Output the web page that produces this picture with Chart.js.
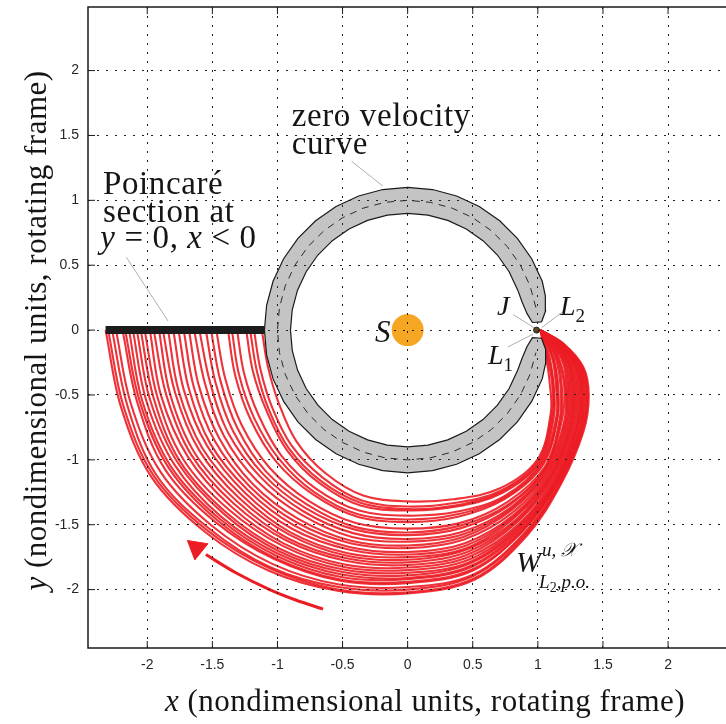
<!DOCTYPE html>
<html lang="en">
<head>
<meta charset="UTF-8">
<title>Tubo do L2 - secao de Poincare</title>
<script src="https://cdn.jsdelivr.net/npm/chart.js"></script>
<style>
  html, body { margin: 0; padding: 0; background: #fff; overflow: hidden; }
  #caixa { width: 726px; height: 724px; position: relative; }
  canvas { display: block; }
</style>
</head>
<body>
<div id="caixa"><canvas id="grafico"></canvas></div>
<script>
const xTicks = [-2, -1.5, -1, -0.5, 0, 0.5, 1, 1.5, 2];
const yTicks = [-2, -1.5, -1, -0.5, 0, 0.5, 1, 1.5, 2];

// orbitas do tubo: raio (a partir de S) lido em cada angulo, medido no sentido horario a partir de +x
const tubeAngles = [0, 5, 12, 20, 30, 45, 60, 75, 90, 105, 120, 135, 150, 165, 180];
const tubeRadii = [
  [1.02, 1.04, 1.09, 1.16, 1.27, 1.41, 1.41, 1.35, 1.32, 1.32, 1.27, 1.21, 1.14, 1.11, 1.12],
  [1.02, 1.05, 1.10, 1.18, 1.28, 1.42, 1.43, 1.38, 1.36, 1.36, 1.31, 1.26, 1.20, 1.17, 1.18],
  [1.02, 1.05, 1.11, 1.19, 1.29, 1.43, 1.44, 1.40, 1.38, 1.38, 1.34, 1.29, 1.23, 1.20, 1.21],
  [1.02, 1.06, 1.12, 1.19, 1.30, 1.44, 1.45, 1.41, 1.39, 1.40, 1.36, 1.31, 1.25, 1.23, 1.24],
  [1.02, 1.07, 1.14, 1.21, 1.32, 1.45, 1.48, 1.45, 1.43, 1.44, 1.41, 1.37, 1.32, 1.30, 1.31],
  [1.02, 1.07, 1.15, 1.22, 1.33, 1.46, 1.49, 1.47, 1.46, 1.47, 1.44, 1.40, 1.36, 1.34, 1.35],
  [1.02, 1.08, 1.15, 1.23, 1.33, 1.47, 1.50, 1.49, 1.48, 1.49, 1.46, 1.43, 1.39, 1.37, 1.38],
  [1.02, 1.09, 1.17, 1.25, 1.35, 1.49, 1.53, 1.54, 1.53, 1.54, 1.52, 1.50, 1.47, 1.45, 1.47],
  [1.02, 1.09, 1.18, 1.26, 1.36, 1.50, 1.55, 1.56, 1.56, 1.57, 1.55, 1.54, 1.51, 1.49, 1.51],
  [1.02, 1.10, 1.19, 1.28, 1.37, 1.50, 1.56, 1.58, 1.58, 1.59, 1.58, 1.57, 1.55, 1.53, 1.55],
  [1.02, 1.11, 1.20, 1.29, 1.39, 1.51, 1.58, 1.61, 1.61, 1.62, 1.61, 1.60, 1.59, 1.57, 1.60],
  [1.02, 1.11, 1.22, 1.30, 1.40, 1.52, 1.59, 1.63, 1.63, 1.65, 1.64, 1.64, 1.63, 1.61, 1.64],
  [1.02, 1.12, 1.23, 1.31, 1.41, 1.53, 1.60, 1.65, 1.66, 1.68, 1.68, 1.68, 1.67, 1.66, 1.68],
  [1.02, 1.12, 1.24, 1.32, 1.42, 1.54, 1.62, 1.67, 1.68, 1.70, 1.71, 1.71, 1.71, 1.70, 1.72],
  [1.02, 1.13, 1.25, 1.33, 1.43, 1.55, 1.64, 1.70, 1.71, 1.73, 1.74, 1.74, 1.75, 1.74, 1.76],
  [1.02, 1.13, 1.26, 1.34, 1.44, 1.56, 1.65, 1.72, 1.73, 1.75, 1.77, 1.77, 1.78, 1.78, 1.80],
  [1.02, 1.14, 1.27, 1.35, 1.45, 1.57, 1.66, 1.74, 1.75, 1.78, 1.80, 1.80, 1.82, 1.82, 1.84],
  [1.02, 1.14, 1.27, 1.36, 1.45, 1.57, 1.68, 1.75, 1.77, 1.80, 1.82, 1.83, 1.85, 1.85, 1.88],
  [1.02, 1.15, 1.28, 1.37, 1.46, 1.58, 1.69, 1.77, 1.79, 1.82, 1.85, 1.86, 1.89, 1.89, 1.91],
  [1.02, 1.15, 1.29, 1.38, 1.47, 1.59, 1.70, 1.79, 1.81, 1.84, 1.87, 1.89, 1.92, 1.92, 1.95],
  [1.02, 1.16, 1.30, 1.39, 1.48, 1.60, 1.72, 1.81, 1.83, 1.87, 1.90, 1.92, 1.95, 1.96, 1.98],
  [1.02, 1.16, 1.31, 1.40, 1.49, 1.61, 1.73, 1.83, 1.85, 1.89, 1.92, 1.95, 1.99, 1.99, 2.02],
  [1.02, 1.17, 1.32, 1.41, 1.50, 1.62, 1.74, 1.85, 1.87, 1.91, 1.95, 1.98, 2.02, 2.02, 2.05],
  [1.02, 1.17, 1.32, 1.42, 1.50, 1.62, 1.75, 1.86, 1.89, 1.93, 1.97, 2.00, 2.04, 2.05, 2.08],
  [1.02, 1.18, 1.33, 1.43, 1.51, 1.63, 1.76, 1.88, 1.91, 1.95, 1.99, 2.03, 2.07, 2.08, 2.11],
  [1.02, 1.18, 1.34, 1.43, 1.52, 1.63, 1.77, 1.89, 1.92, 1.97, 2.01, 2.05, 2.10, 2.11, 2.14],
  [1.02, 1.18, 1.35, 1.44, 1.53, 1.64, 1.78, 1.91, 1.94, 1.99, 2.03, 2.07, 2.12, 2.13, 2.17],
  [1.02, 1.18, 1.35, 1.45, 1.53, 1.64, 1.78, 1.92, 1.95, 2.00, 2.04, 2.09, 2.15, 2.15, 2.19],
  [1.02, 1.19, 1.36, 1.46, 1.54, 1.65, 1.80, 1.95, 1.98, 2.03, 2.08, 2.13, 2.19, 2.20, 2.24],
  [1.02, 1.19, 1.37, 1.47, 1.55, 1.66, 1.81, 1.96, 2.00, 2.05, 2.11, 2.16, 2.23, 2.23, 2.27],
  [1.02, 1.20, 1.37, 1.47, 1.55, 1.66, 1.82, 1.98, 2.02, 2.07, 2.12, 2.18, 2.25, 2.26, 2.30],
  [1.02, 1.20, 1.38, 1.48, 1.56, 1.67, 1.83, 1.99, 2.03, 2.08, 2.14, 2.20, 2.27, 2.28, 2.32]
];

// curva de velocidade zero (anel cinza), angulos anti-horarios a partir de +x
const ringAngles = [3.5, 8, 14, 20, 30, 40, 50, 60, 70, 80, 90, 100, 110, 120, 130, 140, 150, 160, 170, 180,
  190, 200, 210, 220, 230, 240, 250, 260, 270, 280, 290, 300, 310, 320, 330, 340, 346, 352, 356.5];
const ringOuter = [1.03, 1.07, 1.09, 1.10, 1.10, 1.10, 1.10, 1.10, 1.10, 1.10, 1.10, 1.10, 1.10, 1.10, 1.10, 1.10,
  1.10, 1.10, 1.10, 1.10, 1.10, 1.10, 1.10, 1.10, 1.10, 1.10, 1.10, 1.10, 1.10, 1.10, 1.10, 1.10, 1.10, 1.10, 1.10,
  1.10, 1.09, 1.07, 1.03];
const ringInner = [0.96, 0.925, 0.905, 0.90, 0.90, 0.90, 0.90, 0.90, 0.90, 0.90, 0.90, 0.90, 0.90, 0.90, 0.90, 0.90,
  0.90, 0.90, 0.90, 0.90, 0.90, 0.90, 0.90, 0.90, 0.90, 0.90, 0.90, 0.90, 0.90, 0.90, 0.90, 0.90, 0.90, 0.90, 0.90,
  0.90, 0.905, 0.925, 0.96];
const midAngles = [10, 20, 30, 40, 50, 60, 70, 80, 90, 100, 110, 120, 130, 140, 150, 160, 170, 180, 190, 200,
  210, 220, 230, 240, 250, 260, 270, 280, 290, 300, 310, 320, 330, 340, 350];
const midRadius = 1.0;

const section = [[-2.32, 0], [-1.10, 0]];
const sun = [[0, 0]];
const jPoint = [[0.99, 0]];
const arrowPath = [[-0.65, -2.15], [-0.86, -2.08], [-1.06, -2.0], [-1.32, -1.87], [-1.55, -1.73]];
const arrowHead = [[-1.62, -1.68]];
const leaderZvc = [[-0.43, 1.30], [-0.19, 1.11]];
const leaderSec = [[-2.16, 0.56], [-1.84, 0.07]];
const leaderJ = [[0.81, 0.12], [0.975, 0.015]];
const leaderL2 = [[1.19, 0.14], [1.03, 0.02]];
const leaderL1 = [[0.77, -0.13], [0.965, -0.03]];

const polar = (r, graus) => ({ x: r * Math.cos(graus * Math.PI / 180), y: r * Math.sin(graus * Math.PI / 180) });
const pts = lista => lista.map(p => ({ x: p[0], y: p[1] }));

const vermelho = 'rgba(236, 28, 36, 0.9)';
const datasets = [];

tubeRadii.forEach(raios => {
  datasets.push({
    data: raios.map((r, i) => polar(r, -tubeAngles[i])),
    showLine: true, borderColor: vermelho, borderWidth: 2.1, tension: 0.35,
    pointRadius: 0, order: 10
  });
});

// anel em forma de C: borda externa ida, borda interna volta
const anel = ringAngles.map((a, i) => polar(ringOuter[i], a))
  .concat(ringAngles.map((a, i) => polar(ringInner[i], a)).reverse());
anel.push(anel[0]);
datasets.push({
  data: anel, showLine: true, fill: 'shape', backgroundColor: '#c4c4c4',
  borderColor: '#1a1a1a', borderWidth: 1.2, tension: 0, pointRadius: 0, order: 4
});
datasets.push({
  data: midAngles.map(a => polar(midRadius, a)), showLine: true, borderColor: '#2a2a2a',
  borderWidth: 1, borderDash: [7, 6], tension: 0, pointRadius: 0, order: 3
});

datasets.push({ data: pts(section), showLine: true, borderColor: '#1c1c1c', borderWidth: 8, pointRadius: 0, order: 2 });
datasets.push({ data: pts(arrowPath), showLine: true, borderColor: 'rgb(236, 28, 36)', borderWidth: 3, tension: 0.3, pointRadius: 0, order: 5 });
datasets.push({ data: pts(arrowHead), pointStyle: 'triangle', pointRotation: -51, pointRadius: 12,
  backgroundColor: 'rgb(236, 28, 36)', borderColor: 'rgb(236, 28, 36)', borderWidth: 1, order: 5 });

[leaderZvc, leaderSec, leaderJ, leaderL2, leaderL1].forEach(l => {
  datasets.push({ data: pts(l), showLine: true, borderColor: '#aeaeae', borderWidth: 1, pointRadius: 0, order: 6 });
});

datasets.push({ data: pts(sun), pointRadius: 16, backgroundColor: '#f5a623', borderWidth: 0, order: 1 });
datasets.push({ data: pts(jPoint), pointRadius: 3, backgroundColor: '#5c4b1e', borderColor: '#222', borderWidth: 1, order: 0 });

const serif = '"Liberation Serif", "Times New Roman", serif';

function larguraTexto(ctx, partes) {
  let w = 0;
  partes.forEach(([t, tam, ital]) => { ctx.font = (ital ? 'italic ' : '') + tam + 'px ' + serif; w += ctx.measureText(t).width; });
  return w;
}
function escreve(ctx, partes, x0, y0) {
  let cx = x0;
  partes.forEach(([t, tam, ital, dy]) => {
    ctx.font = (ital ? 'italic ' : '') + tam + 'px ' + serif;
    ctx.fillText(t, cx, y0 + (dy || 0));
    cx += ctx.measureText(t).width;
  });
  return cx;
}

const anotacoes = {
  id: 'anotacoes',
  afterDraw(chart) {
    const { ctx, chartArea: a, scales: { x, y } } = chart;
    const px = v => x.getPixelForValue(v), py = v => y.getPixelForValue(v);
    ctx.save();

    // moldura e marcas para dentro (estilo MATLAB)
    ctx.strokeStyle = '#1a1a1a';
    ctx.lineWidth = 1.5;
    ctx.beginPath();
    ctx.moveTo(a.right + 2, a.top); ctx.lineTo(a.left, a.top); ctx.lineTo(a.left, a.bottom); ctx.lineTo(a.right + 2, a.bottom);
    ctx.stroke();
    ctx.lineWidth = 1;
    ctx.beginPath();
    xTicks.forEach(v => {
      ctx.moveTo(px(v), a.bottom); ctx.lineTo(px(v), a.bottom - 7);
      ctx.moveTo(px(v), a.top); ctx.lineTo(px(v), a.top + 7);
    });
    yTicks.forEach(v => { ctx.moveTo(a.left, py(v)); ctx.lineTo(a.left + 7, py(v)); });
    ctx.stroke();

    ctx.fillStyle = '#151515';
    ctx.textBaseline = 'alphabetic';
    ctx.textAlign = 'left';
    ctx.letterSpacing = '0.6px';

    escreve(ctx, [['zero velocity', 33]], px(-0.89), py(1.57));
    escreve(ctx, [['curve', 33]], px(-0.89), py(1.355));

    escreve(ctx, [['Poincaré', 33]], px(-2.34), py(1.045));
    escreve(ctx, [['section at', 33]], px(-2.34), py(0.836));
    escreve(ctx, [['y', 33, true], [' = 0, ', 33], ['x', 33, true], [' < 0', 33]], px(-2.36), py(0.63));

    ctx.letterSpacing = '0px';
    escreve(ctx, [['S', 31, true]], px(-0.25), py(-0.095));
    escreve(ctx, [['J', 28, true]], px(0.687), py(0.12));
    escreve(ctx, [['L', 28, true], ['2', 19, false, 7]], px(1.17), py(0.12));
    escreve(ctx, [['L', 28, true], ['1', 19, false, 7]], px(0.617), py(-0.265));

    const wx = px(0.833), wy = py(-1.867);
    const fimW = escreve(ctx, [['W', 30, true]], wx, wy);
    escreve(ctx, [['u', 19, true, -16], [', 𝒳', 19, true, -16]], fimW + 1, wy);
    escreve(ctx, [['L', 19, true, 16], ['2', 14, false, 20], [',p.o.', 19, true, 16]], fimW - 2, wy);

    // titulos dos eixos
    ctx.letterSpacing = '0.5px';
    const tituloX = [['x', 31, true], [' (nondimensional units, rotating frame)', 31]];
    const cxTitulo = (a.left + a.right) / 2 + 18;
    escreve(ctx, tituloX, cxTitulo - larguraTexto(ctx, tituloX) / 2, 711);

    const tituloY = [['y', 31, true], [' (nondimensional units, rotating frame)', 31]];
    ctx.translate(46, (a.top + a.bottom) / 2 + 3);
    ctx.rotate(-Math.PI / 2);
    escreve(ctx, tituloY, -larguraTexto(ctx, tituloY) / 2, 0);
    ctx.restore();
  }
};

const fonteTicks = { family: '"Liberation Sans", Arial, sans-serif', size: 14 };

new Chart(document.getElementById('grafico'), {
  type: 'scatter',
  data: { datasets: datasets },
  options: {
    responsive: true,
    maintainAspectRatio: false,
    animation: false,
    layout: { autoPadding: false, padding: { top: 7, left: 0, right: 0, bottom: 0 } },
    plugins: { legend: { display: false }, tooltip: { enabled: false } },
    scales: {
      x: {
        type: 'linear', min: -2.455, max: 2.445,
        afterBuildTicks: ax => { ax.ticks = xTicks.map(v => ({ value: v })); },
        afterFit: ax => { ax.height = 76; ax.paddingLeft = 0; ax.paddingRight = 0; },
        grid: { color: '#222', lineWidth: 1, drawTicks: false, z: 1 },
        border: { display: false, dash: [2, 7] },
        ticks: { padding: 9, color: '#262626', font: fonteTicks, callback: v => String(v) }
      },
      y: {
        type: 'linear', min: -2.45, max: 2.49,
        afterBuildTicks: ax => { ax.ticks = yTicks.map(v => ({ value: v })); },
        afterFit: ax => { ax.width = 88; ax.paddingTop = 0; ax.paddingBottom = 0; },
        grid: { color: '#222', lineWidth: 1, drawTicks: false, z: 1 },
        border: { display: false, dash: [2, 7] },
        ticks: { padding: 9, color: '#262626', font: fonteTicks, callback: v => String(v) }
      }
    }
  },
  plugins: [anotacoes]
});
</script>
</body>
</html>
